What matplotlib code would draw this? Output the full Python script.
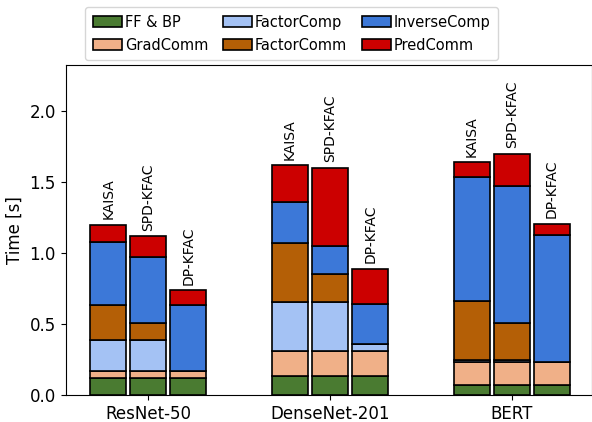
import numpy as np
import matplotlib
matplotlib.use("Agg")
import matplotlib.pyplot as plt

models = ["ResNet-50", "DenseNet-201", "BERT"]
methods = ["KAISA", "SPD-KFAC", "DP-KFAC"]
parts = ["FF & BP", "GradComm", "FactorComp", "FactorComm", "InverseComp", "PredComm"]
colors = ["#4a7b31", "#f0b088", "#a4c2f4", "#b45f06", "#3c78d8", "#cc0000"]

# time per iteration [s], one row per model, one list per method in `parts` order
resnet = {
    "KAISA":    [0.12, 0.05, 0.22, 0.25, 0.44, 0.12],
    "SPD-KFAC": [0.12, 0.05, 0.22, 0.12, 0.465, 0.145],
    "DP-KFAC":  [0.12, 0.05, 0.005, 0.0, 0.46, 0.105],
}
densenet = {
    "KAISA":    [0.14, 0.17, 0.35, 0.415, 0.285, 0.26],
    "SPD-KFAC": [0.14, 0.17, 0.35, 0.195, 0.197, 0.552],
    "DP-KFAC":  [0.14, 0.17, 0.05, 0.0, 0.287, 0.244],
}
bert = {
    "KAISA":    [0.075, 0.16, 0.016, 0.413, 0.876, 0.101],
    "SPD-KFAC": [0.075, 0.16, 0.016, 0.256, 0.967, 0.228],
    "DP-KFAC":  [0.075, 0.16, 0.003, 0.0, 0.893, 0.078],
}
data = [resnet, densenet, bert]

fig = plt.figure(figsize=(5.92, 4.22), dpi=100)
ax = fig.add_axes([0.1107, 0.0628, 0.8893, 0.7832])

x = np.arange(len(models))
offsets = [-0.22, 0.0, 0.22]
width = 0.2

for i, m in enumerate(methods):
    vals = np.array([d[m] for d in data])
    bottom = np.zeros(len(models))
    for j, p in enumerate(parts):
        ax.bar(x + offsets[i], vals[:, j], width, bottom=bottom,
               color=colors[j], edgecolor="black", linewidth=1.2,
               label=p if i == 0 else None)
        bottom += vals[:, j]
    for k in range(len(models)):
        ax.text(x[k] + offsets[i], bottom[k] + 0.04, m, rotation=90,
                ha="center", va="bottom", fontsize=10)

ax.set_xlim(-0.455, 2.44)
ax.set_ylim(0, 2.327)
ax.set_xticks(x)
ax.set_xticklabels(models, fontsize=12)
ax.set_yticks([0.0, 0.5, 1.0, 1.5, 2.0])
ax.tick_params(axis="y", labelsize=12)
ax.set_ylabel("Time [s]", fontsize=12)

fig.legend(loc="upper center", bbox_to_anchor=(0.4924, 1.0), ncol=3,
           fontsize=10.5, columnspacing=1.0, handletextpad=0.2,
           labelspacing=0.55, borderpad=0.5)

fig.savefig("out.png", dpi=100)
